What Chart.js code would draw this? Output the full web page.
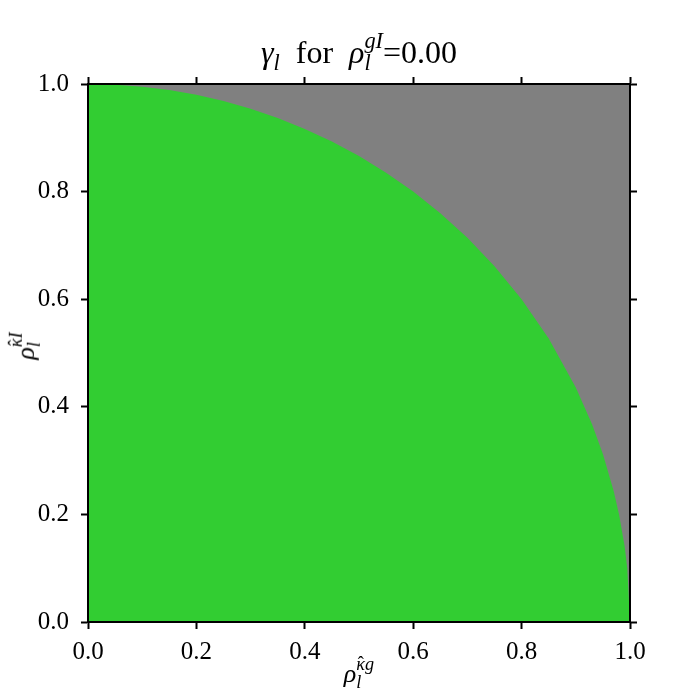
<!DOCTYPE html>
<html>
<head>
<meta charset="utf-8">
<script src="https://cdn.jsdelivr.net/npm/chart.js@4/dist/chart.umd.min.js"></script>
<style>
  html, body { margin:0; padding:0; background:#fff; }
  #wrap { position:relative; width:700px; height:700px; overflow:hidden; }
  canvas { position:absolute; left:0; top:0; }
  .lbl { position:absolute; font-family:'Liberation Serif', serif; color:#000; white-space:nowrap; }
  .ss { display:inline-block; vertical-align:-0.35em; line-height:1; font-size:0.7em; text-align:left; }
  .ss > span { display:block; }
  .hat { position:relative; display:inline-block; }
  .hat .h { position:absolute; left:0; right:0; top:-0.08em; text-align:center; font-style:normal; }
  #title { left:0; width:718px; top:30px; font-size:32px; line-height:32px; text-align:center; }
  #xlab { left:0; width:718px; top:655px; font-size:26px; line-height:26px; text-align:center; }
  #ylab { left:25px; top:346px; font-size:26px; line-height:26px; transform:translate(-50%,-50%) rotate(-90deg); }
</style>
</head>
<body>
<div id="wrap">
  <canvas id="c" width="700" height="700"></canvas>
  <div class="lbl" id="title"><i>γ</i><span class="ss"><span>&nbsp;</span><span><i>l</i></span></span>&nbsp;&nbsp;for&nbsp;&nbsp;<i>ρ</i><span class="ss"><span><i>gI</i></span><span><i>l</i></span></span>=0.00</div>
  <div class="lbl" id="xlab"><i>ρ</i><span class="ss"><span><i><span class="hat">κ<span class="h">ˆ</span></span>g</i></span><span><i>l</i></span></span></div>
  <div class="lbl" id="ylab"><i>ρ</i><span class="ss"><span><i><span class="hat">κ<span class="h">ˆ</span></span>I</i></span><span><i>l</i></span></span></div>
</div>
<script>
// Boundary of the green region
const boundaryX = [0, 0.05, 0.1, 0.15, 0.2, 0.25, 0.3, 0.35, 0.4, 0.45, 0.5, 0.55, 0.6, 0.65, 0.7, 0.75, 0.8, 0.85, 0.9, 0.93, 0.95, 0.97, 0.98, 0.99, 0.995, 1.0];
const boundaryY = [1.0, 0.9987, 0.995, 0.9887, 0.9798, 0.9682, 0.9539, 0.9367, 0.9165, 0.893, 0.866, 0.8352, 0.8, 0.7599, 0.7141, 0.6614, 0.6, 0.5268, 0.4359, 0.3676, 0.3122, 0.2431, 0.199, 0.1411, 0.0999, 0.0];
const tickValues = [0, 0.2, 0.4, 0.6, 0.8, 1.0];
const tickLabels = ['0.0', '0.2', '0.4', '0.6', '0.8', '1.0'];

const GREEN = '#32CD32';
const GRAY = '#808080';
const FONT = { family: "'Liberation Serif', serif", size: 25 };

const points = boundaryX.map((x, i) => ({ x: x, y: boundaryY[i] }));

const bgPlugin = {
  id: 'bg',
  beforeDraw(chart) {
    const a = chart.chartArea, ctx = chart.ctx;
    ctx.save();
    ctx.fillStyle = GRAY;
    ctx.fillRect(a.left, a.top, a.right - a.left, a.bottom - a.top);
    ctx.restore();
  }
};

function setTicks(scale) { scale.ticks = tickValues.map(v => ({ value: v })); }

function axis(pos, showLabels, fitSize) {
  const horiz = pos === 'top' || pos === 'bottom';
  return {
    type: 'linear', position: pos, min: 0, max: 1,
    afterBuildTicks: setTicks,
    ticks: {
      display: showLabels, font: FONT, color: '#000',
      padding: horiz ? 8 : 12,
      maxRotation: 0, autoSkip: false,
      callback: (v, i) => tickLabels[i]
    },
    grid: { display: true, drawOnChartArea: false, drawTicks: true, tickLength: 7, tickWidth: 2, tickColor: '#000' },
    border: { display: true, width: 2, color: '#000', z: 1 },
    afterFit(s) { if (horiz) s.height = fitSize; else s.width = fitSize; }
  };
}

new Chart(document.getElementById('c'), {
  type: 'line',
  data: {
    datasets: [{
      data: points,
      fill: 'origin',
      backgroundColor: GREEN,
      borderWidth: 0,
      borderColor: GREEN,
      pointRadius: 0,
      tension: 0
    }]
  },
  options: {
    responsive: false,
    animation: false,
    devicePixelRatio: 1,
    layout: { padding: 0 },
    plugins: { legend: { display: false }, tooltip: { enabled: false }, title: { display: false } },
    scales: {
      x: axis('bottom', true, 78),
      y: axis('left', true, 88),
      x2: axis('top', false, 84),
      y2: axis('right', false, 70)
    }
  },
  plugins: [bgPlugin]
});
</script>
</body>
</html>
